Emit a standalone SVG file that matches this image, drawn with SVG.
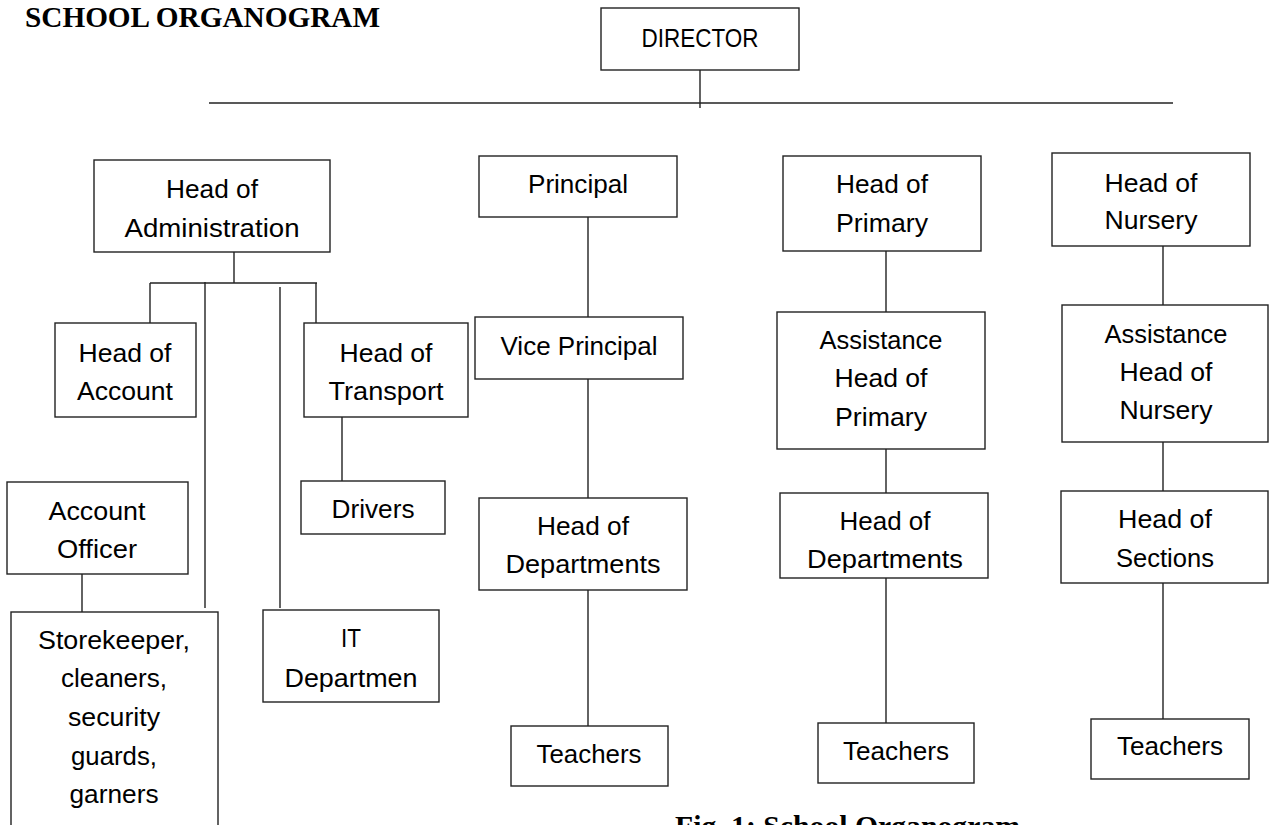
<svg xmlns="http://www.w3.org/2000/svg" width="1269" height="825" viewBox="0 0 1269 825">
<style>
rect.box{fill:#fff;stroke:#222;stroke-width:1.4}
text.t{font-family:"Liberation Sans",Arial,sans-serif;font-size:26px;fill:#000;text-anchor:middle}
text.h{font-family:"Liberation Serif","Times New Roman",serif;font-size:29px;font-weight:bold;fill:#000}
#connectors line{stroke:#222;stroke-width:1.4}
</style>
<defs>
<clipPath id="clipDP"><rect x="780" y="493" width="208" height="85"/></clipPath>
</defs>
<rect x="0" y="0" width="1269" height="825" fill="#fff"/>
<text class="h" x="25" y="27" textLength="355" lengthAdjust="spacingAndGlyphs">SCHOOL ORGANOGRAM</text>
<text class="h" x="675" y="836" textLength="345" lengthAdjust="spacingAndGlyphs">Fig. 1: School Organogram</text>

<g id="connectors">
<line x1="700" y1="70" x2="700" y2="108"/>
<line x1="209" y1="103" x2="1173" y2="103"/>
<line x1="234" y1="252" x2="234" y2="283"/>
<line x1="150" y1="283" x2="317" y2="283"/>
<line x1="150" y1="283" x2="150" y2="323"/>
<line x1="316" y1="283" x2="316" y2="323"/>
<line x1="205" y1="282" x2="205" y2="608"/>
<line x1="280" y1="287" x2="280" y2="608"/>
<line x1="342" y1="417" x2="342" y2="481"/>
<line x1="82" y1="574" x2="82" y2="617"/>
<line x1="588" y1="217" x2="588" y2="317"/>
<line x1="588" y1="379" x2="588" y2="498"/>
<line x1="588" y1="590" x2="588" y2="726"/>
<line x1="886" y1="251" x2="886" y2="312"/>
<line x1="886" y1="449" x2="886" y2="493"/>
<line x1="886" y1="578" x2="886" y2="723"/>
<line x1="1163" y1="246" x2="1163" y2="305"/>
<line x1="1163" y1="442" x2="1163" y2="491"/>
<line x1="1163" y1="583" x2="1163" y2="719"/>
</g>

<g id="director"><rect class="box" x="601" y="8" width="198" height="62"/><text class="t" x="700" y="47" textLength="117" lengthAdjust="spacingAndGlyphs">DIRECTOR</text></g>

<g id="head-admin"><rect class="box" x="94" y="160" width="236" height="92"/>
<text class="t" x="212" y="198" textLength="92" lengthAdjust="spacingAndGlyphs">Head of</text>
<text class="t" x="212" y="237" textLength="175" lengthAdjust="spacingAndGlyphs">Administration</text></g>

<g id="principal"><rect class="box" x="479" y="156" width="198" height="61"/>
<text class="t" x="578" y="193" textLength="100" lengthAdjust="spacingAndGlyphs">Principal</text></g>

<g id="head-primary"><rect class="box" x="783" y="156" width="198" height="95"/>
<text class="t" x="882" y="193" textLength="92" lengthAdjust="spacingAndGlyphs">Head of</text>
<text class="t" x="882" y="232" textLength="92" lengthAdjust="spacingAndGlyphs">Primary</text></g>

<g id="head-nursery"><rect class="box" x="1052" y="153" width="198" height="93"/>
<text class="t" x="1151" y="192" textLength="93" lengthAdjust="spacingAndGlyphs">Head of</text>
<text class="t" x="1151" y="229" textLength="93" lengthAdjust="spacingAndGlyphs">Nursery</text></g>

<g id="head-account"><rect class="box" x="55" y="323" width="141" height="94"/>
<text class="t" x="125" y="362" textLength="93" lengthAdjust="spacingAndGlyphs">Head of</text>
<text class="t" x="125" y="400" textLength="96" lengthAdjust="spacingAndGlyphs">Account</text></g>

<g id="head-transport"><rect class="box" x="304" y="323" width="164" height="94"/>
<text class="t" x="386" y="362" textLength="93" lengthAdjust="spacingAndGlyphs">Head of</text>
<text class="t" x="386" y="400" textLength="115" lengthAdjust="spacingAndGlyphs">Transport</text></g>

<g id="vice-principal"><rect class="box" x="475" y="317" width="208" height="62"/>
<text class="t" x="579" y="355" textLength="157" lengthAdjust="spacingAndGlyphs">Vice Principal</text></g>

<g id="asst-primary"><rect class="box" x="777" y="312" width="208" height="137"/>
<text class="t" x="881" y="349" textLength="123" lengthAdjust="spacingAndGlyphs">Assistance</text>
<text class="t" x="881" y="387" textLength="93" lengthAdjust="spacingAndGlyphs">Head of</text>
<text class="t" x="881" y="426" textLength="92" lengthAdjust="spacingAndGlyphs">Primary</text></g>

<g id="asst-nursery"><rect class="box" x="1062" y="305" width="206" height="137"/>
<text class="t" x="1166" y="343" textLength="123" lengthAdjust="spacingAndGlyphs">Assistance</text>
<text class="t" x="1166" y="381" textLength="93" lengthAdjust="spacingAndGlyphs">Head of</text>
<text class="t" x="1166" y="419" textLength="93" lengthAdjust="spacingAndGlyphs">Nursery</text></g>

<g id="drivers"><rect class="box" x="301" y="481" width="144" height="53"/>
<text class="t" x="373" y="518" textLength="83" lengthAdjust="spacingAndGlyphs">Drivers</text></g>

<g id="account-officer"><rect class="box" x="7" y="482" width="181" height="92"/>
<text class="t" x="97" y="520" textLength="97" lengthAdjust="spacingAndGlyphs">Account</text>
<text class="t" x="97" y="558" textLength="80" lengthAdjust="spacingAndGlyphs">Officer</text></g>

<g id="storekeeper"><rect class="box" x="11" y="612" width="207" height="230"/>
<text class="t" x="114" y="649" textLength="152" lengthAdjust="spacingAndGlyphs">Storekeeper,</text>
<text class="t" x="114" y="687" textLength="106" lengthAdjust="spacingAndGlyphs">cleaners,</text>
<text class="t" x="114" y="726" textLength="92" lengthAdjust="spacingAndGlyphs">security</text>
<text class="t" x="114" y="765" textLength="86" lengthAdjust="spacingAndGlyphs">guards,</text>
<text class="t" x="114" y="803" textLength="89" lengthAdjust="spacingAndGlyphs">garners</text></g>

<g id="it-dept"><rect class="box" x="263" y="610" width="176" height="92"/>
<text class="t" x="351" y="647" textLength="20" lengthAdjust="spacingAndGlyphs">IT</text>
<text class="t" x="351" y="687" textLength="133" lengthAdjust="spacingAndGlyphs">Departmen</text></g>

<g id="hod-principal"><rect class="box" x="479" y="498" width="208" height="92"/>
<text class="t" x="583" y="535" textLength="92" lengthAdjust="spacingAndGlyphs">Head of</text>
<text class="t" x="583" y="573" textLength="155" lengthAdjust="spacingAndGlyphs">Departments</text></g>

<g id="hod-primary"><rect class="box" x="780" y="493" width="208" height="85"/>
<g clip-path="url(#clipDP)">
<text class="t" x="885" y="530" textLength="91" lengthAdjust="spacingAndGlyphs">Head of</text>
<text class="t" x="885" y="568" textLength="156" lengthAdjust="spacingAndGlyphs">Departments</text></g></g>

<g id="head-sections"><rect class="box" x="1061" y="491" width="207" height="92"/>
<text class="t" x="1165" y="528" textLength="94" lengthAdjust="spacingAndGlyphs">Head of</text>
<text class="t" x="1165" y="567" textLength="98" lengthAdjust="spacingAndGlyphs">Sections</text></g>

<g id="teachers-principal"><rect class="box" x="511" y="726" width="157" height="60"/>
<text class="t" x="589" y="763" textLength="105" lengthAdjust="spacingAndGlyphs">Teachers</text></g>

<g id="teachers-primary"><rect class="box" x="818" y="723" width="156" height="60"/>
<text class="t" x="896" y="760" textLength="106" lengthAdjust="spacingAndGlyphs">Teachers</text></g>

<g id="teachers-nursery"><rect class="box" x="1091" y="719" width="158" height="60"/>
<text class="t" x="1170" y="755" textLength="106" lengthAdjust="spacingAndGlyphs">Teachers</text></g>
</svg>
